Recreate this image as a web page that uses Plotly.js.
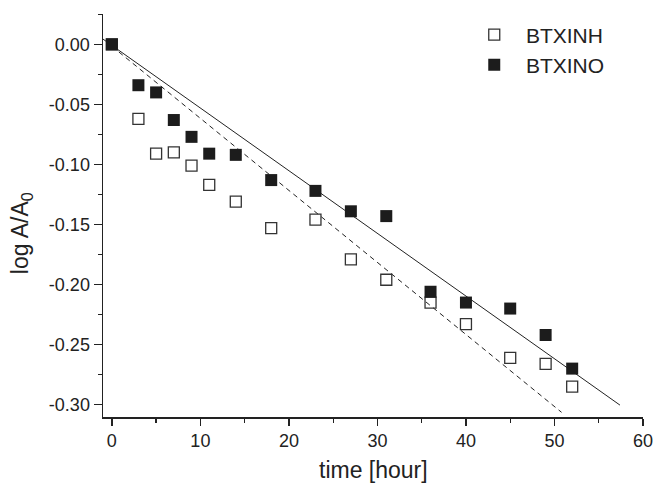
<!DOCTYPE html>
<html>
<head>
<meta charset="utf-8">
<script src="https://cdn.plot.ly/plotly-3.0.1.min.js"></script>
<style>html,body{margin:0;padding:0;background:#fff;}#chart{width:656px;height:484px;}</style>
</head>
<body>
<div id="chart"></div>
<script>
// Data
const timeH = [0, 3, 5, 7, 9, 11, 14, 18, 23, 27, 31, 36, 40, 45, 49, 52];
const btxinh = [0, -0.062, -0.091, -0.090, -0.101, -0.117, -0.131, -0.153, -0.146, -0.179, -0.196, -0.215, -0.233, -0.261, -0.266, -0.285];
const btxino = [0, -0.034, -0.040, -0.063, -0.077, -0.091, -0.092, -0.113, -0.122, -0.139, -0.143, -0.206, -0.215, -0.220, -0.242, -0.270];
// Fit lines (end points)
const fitInoX = [-1, 57.4];
const fitInoY = [0.0044, -0.3004];
const fitInhX = [0, 50.8];
const fitInhY = [-0.0016, -0.3064];
const xTicks = [0, 10, 20, 30, 40, 50, 60];
const yTicks = [0, -0.05, -0.10, -0.15, -0.20, -0.25, -0.30];
const yTickText = ['0.00', '-0.05', '-0.10', '-0.15', '-0.20', '-0.25', '-0.30'];

const font = 'Liberation Sans, Arial, sans-serif';
const ink = '#222';
const nb = '\u00a0\u00a0';

const traces = [
  {x: fitInoX, y: fitInoY, mode: 'lines', line: {color: ink, width: 1}, showlegend: false, hoverinfo: 'skip'},
  {x: fitInhX, y: fitInhY, mode: 'lines', line: {color: ink, width: 1, dash: '5px,4px'}, showlegend: false, hoverinfo: 'skip'},
  {x: timeH, y: btxinh, mode: 'markers', name: nb + 'BTXINH',
   marker: {symbol: 'square-open', size: 11, color: '#333', line: {width: 1.3, color: '#333'}}},
  {x: timeH, y: btxino, mode: 'markers', name: nb + 'BTXINO',
   marker: {symbol: 'square', size: 12, color: '#1c1c1c', line: {width: 0}}}
];

const layout = {
  width: 656, height: 484,
  margin: {l: 103, r: 13, t: 14, b: 67, autoexpand: false},
  paper_bgcolor: '#fff', plot_bgcolor: '#fff',
  font: {family: font, color: ink, size: 18},
  showlegend: true,
  legend: {x: 0.6875, y: 0.999, xanchor: 'left', yanchor: 'top', bgcolor: 'rgba(0,0,0,0)',
           font: {family: font, size: 21, color: ink}, tracegroupgap: 0, itemwidth: 30},
  xaxis: {
    range: [-1, 60], tickvals: xTicks, ticktext: xTicks.map(String),
    showline: true, linecolor: ink, linewidth: 1.5, mirror: false,
    showgrid: false, zeroline: false,
    ticks: 'outside', ticklen: 7, tickwidth: 1.3, tickcolor: ink,
    minor: {ticks: 'outside', ticklen: 4, tickwidth: 1.3, tickcolor: ink, dtick: 5, tick0: 0, showgrid: false},
    tickfont: {family: font, size: 18, color: ink}
  },
  yaxis: {
    range: [-0.3103, 0.0253], tickvals: yTicks, ticktext: yTickText,
    showline: true, linecolor: ink, linewidth: 1.5, mirror: false,
    showgrid: false, zeroline: false,
    ticks: 'outside', ticklen: 8, tickwidth: 1.3, tickcolor: ink,
    minor: {ticks: 'outside', ticklen: 4, tickwidth: 1.3, tickcolor: ink, dtick: 0.025, tick0: 0, showgrid: false},
    tickfont: {family: font, size: 18, color: ink}
  },
  annotations: [
    {xref: 'paper', yref: 'paper', x: -0.152, y: 0.456, xanchor: 'center', yanchor: 'middle',
     text: 'log A/A<sub>0</sub>', textangle: -90, showarrow: false,
     font: {family: font, size: 23, color: ink}},
    {xref: 'paper', yref: 'paper', x: 0.5, y: -0.132, xanchor: 'center', yanchor: 'middle',
     text: 'time [hour]', showarrow: false,
     font: {family: font, size: 23, color: ink}}
  ]
};

Plotly.newPlot('chart', traces, layout, {displayModeBar: false, staticPlot: true});
</script>
</body>
</html>
